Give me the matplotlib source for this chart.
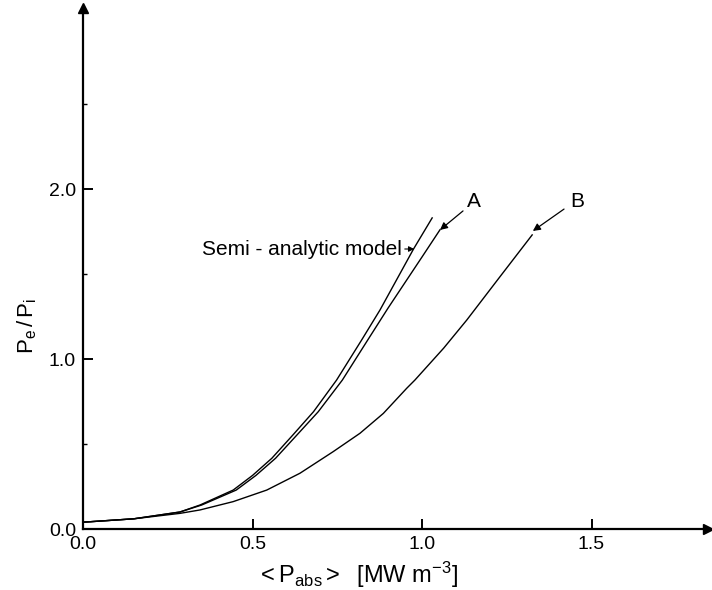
import numpy as np
import matplotlib.pyplot as plt

plt.rcParams['font.family'] = ['Liberation Sans', 'DejaVu Sans']
plt.rcParams['mathtext.fontset'] = 'custom'
plt.rcParams['mathtext.rm'] = 'Liberation Sans'
plt.rcParams['mathtext.it'] = 'Liberation Sans'

# semi-analytic model
semi_x = [0.0, 0.15, 0.286, 0.345, 0.443, 0.50, 0.557, 0.62, 0.68, 0.748, 0.822, 0.876, 0.975, 1.03]
semi_y = [0.04, 0.06, 0.10, 0.141, 0.229, 0.315, 0.416, 0.555, 0.69, 0.876, 1.112, 1.288, 1.647, 1.83]

# curve A
a_x = [0.0, 0.15, 0.286, 0.35, 0.452, 0.51, 0.568, 0.632, 0.694, 0.765, 0.84, 0.90, 1.0, 1.053]
a_y = [0.04, 0.06, 0.10, 0.141, 0.229, 0.315, 0.416, 0.555, 0.69, 0.876, 1.112, 1.30, 1.60, 1.76]

# curve B
b_x = [0.0, 0.15, 0.286, 0.345, 0.443, 0.542, 0.64, 0.738, 0.817, 0.886, 0.955, 0.979,
       1.064, 1.132, 1.23, 1.325]
b_y = [0.04, 0.06, 0.092, 0.112, 0.161, 0.229, 0.328, 0.455, 0.563, 0.68, 0.828, 0.876,
       1.064, 1.229, 1.484, 1.73]

xticks = [0.0, 0.5, 1.0, 1.5]
yticks = [0.0, 1.0, 2.0]

fig = plt.figure(figsize=(7.12, 5.9), dpi=100)
ax = fig.add_axes([83/712, 61/590, 625/712, 521/590])
ax.set_xlim(0, 625/339)
ax.set_ylim(0, 521/170)

for xs, ys in [(semi_x, semi_y), (a_x, a_y), (b_x, b_y)]:
    ax.plot(xs, ys, color='black', lw=1.0, solid_joinstyle='round')

ax.spines['top'].set_visible(False)
ax.spines['right'].set_visible(False)
ax.spines['left'].set_linewidth(1.6)
ax.spines['bottom'].set_linewidth(1.6)

# arrow heads on the axes
ax.plot(1, 0, '>', color='black', ms=7, transform=ax.transAxes, clip_on=False)
ax.plot(0, 1, '^', color='black', ms=7, transform=ax.transAxes, clip_on=False)

ax.set_xticks(xticks)
ax.set_xticklabels(['%.1f' % v for v in xticks])
ax.set_yticks(yticks)
ax.set_yticklabels(['%.1f' % v for v in yticks])
ax.set_yticks([0.5, 1.5, 2.5], minor=True)
ax.tick_params(axis='both', which='major', direction='in', length=7, width=1.4,
               labelsize=14, pad=5)
ax.tick_params(axis='y', which='minor', direction='in', length=3, width=1.0)

ax.set_xlabel(r'$\mathregular{<P_{abs}>\ \ [MW\ m^{-3}]}$', fontsize=17)
ax.xaxis.set_label_coords(0.44, -0.06)
ax.set_ylabel(r'$\mathregular{P_e\,/\,P_i}$', fontsize=16)
ax.yaxis.set_label_coords(-0.07, 0.39)

ax.annotate('Semi - analytic model', xy=(0.977, 1.647), xytext=(0.941, 1.647),
            ha='right', va='center', fontsize=15,
            arrowprops=dict(arrowstyle='-|>', color='black', lw=0.8,
                            mutation_scale=8, shrinkA=0, shrinkB=0))
ax.annotate('', xy=(1.053, 1.759), xytext=(1.121, 1.871),
            arrowprops=dict(arrowstyle='-|>', color='black', lw=0.9,
                            mutation_scale=11, shrinkA=0, shrinkB=0))
ax.text(1.153, 1.924, 'A', ha='center', va='center', fontsize=15)
ax.annotate('', xy=(1.327, 1.753), xytext=(1.419, 1.882),
            arrowprops=dict(arrowstyle='-|>', color='black', lw=0.9,
                            mutation_scale=11, shrinkA=0, shrinkB=0))
ax.text(1.457, 1.924, 'B', ha='center', va='center', fontsize=15)

fig.savefig('out.png', dpi=100)
